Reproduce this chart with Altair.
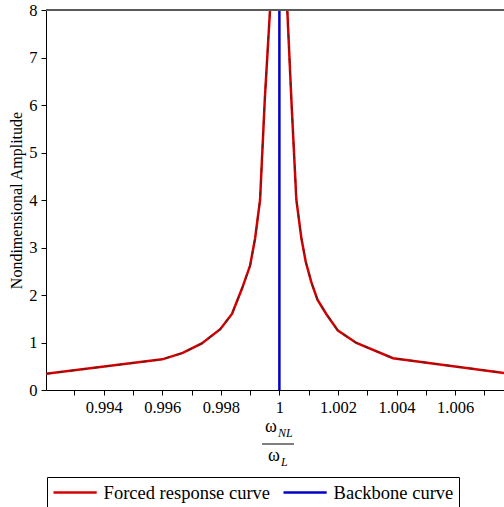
import altair as alt
import pandas as pd

# Frequency ratio and amplitude along the forced response curve
# (two branches on either side of the resonance peak)
left_ratio = [0.99203, 0.9960, 0.9967, 0.99735, 0.99798, 0.99838, 0.99872,
              0.9990, 0.99917, 0.99934, 0.99950, 0.99968]
left_amp = [0.34, 0.645, 0.78, 0.98, 1.28, 1.60, 2.13, 2.62, 3.19, 4.0, 6.1, 8.0]

right_ratio = [1.00027, 1.00041, 1.00058, 1.00075, 1.0009, 1.00109, 1.0013,
               1.0016, 1.0020, 1.00263, 1.00388, 1.00767]
right_amp = [8.0, 6.1, 4.0, 3.2, 2.7, 2.27, 1.9, 1.6, 1.25, 0.99, 0.67, 0.36]

# Backbone curve (vertical at the linear natural frequency)
backbone_ratio = [1.0, 1.0]
backbone_amp = [0.0, 8.0]

series_names = ["Forced response curve", "Backbone curve"]
series_colors = ["#d40000", "#0000c8"]

x_domain = [0.99203, 1.00767]
y_domain = [0, 8]
x_major = [0.994, 0.996, 0.998, 1.0, 1.002, 1.004, 1.006]
x_minor = [0.993, 0.995, 0.997, 0.999, 1.001, 1.003, 1.005, 1.007]
y_ticks = [0, 0.5, 1, 1.5, 2, 2.5, 3, 3.5, 4, 4.5, 5, 5.5, 6, 6.5, 7, 7.5, 8]
frame_top = [8]

rows = []
for branch, xs, ys in (("left", left_ratio, left_amp), ("right", right_ratio, right_amp)):
    for i, (xv, yv) in enumerate(zip(xs, ys)):
        rows.append({"ratio": xv, "amp": yv, "curve": series_names[0], "branch": branch, "seq": i})
for i, (xv, yv) in enumerate(zip(backbone_ratio, backbone_amp)):
    rows.append({"ratio": xv, "amp": yv, "curve": series_names[1], "branch": "backbone", "seq": i})
df = pd.DataFrame(rows)

SERIF = "Liberation Serif"
W, H = 458, 380
x_scale = alt.Scale(domain=x_domain, nice=False, zero=False)

x_enc = alt.X(
    "ratio:Q",
    scale=x_scale,
    axis=alt.Axis(
        values=x_major, format=".3~f", orient="bottom",
        title=None, grid=False, tickSize=5, labelPadding=4,
        labelFont=SERIF, labelFontSize=16.5, labelColor="black",
        domainColor="black", tickColor="black", labelFlush=False, labelOverlap=False,
    ),
)
y_enc = alt.Y(
    "amp:Q",
    scale=alt.Scale(domain=y_domain, nice=False),
    axis=alt.Axis(
        values=y_ticks,
        labelExpr="datum.value % 1 == 0 ? datum.label : ''",
        title="Nondimensional Amplitude", titleFont=SERIF, titleFontSize=16,
        titleFontWeight="normal", titleColor="black", titlePadding=4,
        grid=False, tickSize=5, labelPadding=4,
        labelFont=SERIF, labelFontSize=16.5, labelColor="black",
        domainColor="black", tickColor="black", labelFlush=False, labelOverlap=False,
    ),
)

lines = alt.Chart(df).mark_line(strokeWidth=2.5, clip=True).encode(
    x=x_enc,
    y=y_enc,
    color=alt.Color(
        "curve:N",
        scale=alt.Scale(domain=series_names, range=series_colors),
        legend=alt.Legend(
            title=None, orient="none", legendX=1, legendY=467,
            direction="horizontal", columns=2,
            symbolType="M-2.4,0H2.4", symbolSize=324, symbolStrokeWidth=2.5,
            symbolOffset=12.6,
            labelFont=SERIF, labelFontSize=18.5, labelColor="black",
            labelOffset=18, columnPadding=7, labelLimit=400,
            strokeColor="black", padding=5,
        ),
    ),
    detail="branch:N",
    order="seq:Q",
)

# darker dash texture along the red curve; its x axis carries the minor ticks
texture = alt.Chart(df[df["curve"] == series_names[0]]).mark_line(
    strokeWidth=1.6, color="#7a1818", strokeDash=[5, 7], clip=True
).encode(
    x=alt.X("ratio:Q", scale=x_scale,
            axis=alt.Axis(values=x_minor, orient="bottom", labels=False, domain=False,
                          title=None, grid=False, tickSize=5, tickColor="black")),
    y="amp:Q", detail="branch:N", order="seq:Q",
)

frame = alt.Chart(pd.DataFrame({"top": frame_top})).mark_rule(
    color="#5a5a5a", strokeWidth=2
).encode(y="top:Q")

one = pd.DataFrame({"k": [0]})
num_w = alt.Chart(one).mark_text(text="ω", font=SERIF, fontSize=18, align="left",
                                 baseline="middle", color="black").encode(
    x=alt.value(219), y=alt.value(417))
num_sub = alt.Chart(one).mark_text(text="NL", font=SERIF, fontSize=12, fontStyle="italic",
                                   align="left", baseline="middle", color="black").encode(
    x=alt.value(232), y=alt.value(423))
bar = alt.Chart(one).mark_rule(color="black", strokeWidth=1).encode(
    x=alt.value(216), x2=alt.value(248), y=alt.value(434))
den_w = alt.Chart(one).mark_text(text="ω", font=SERIF, fontSize=18, align="left",
                                 baseline="middle", color="black").encode(
    x=alt.value(222), y=alt.value(446))
den_sub = alt.Chart(one).mark_text(text="L", font=SERIF, fontSize=12, fontStyle="italic",
                                   align="left", baseline="middle", color="black").encode(
    x=alt.value(235), y=alt.value(452))

chart = alt.layer(lines, texture, frame, num_w, num_sub, bar, den_w, den_sub).resolve_axis(
    x="independent"
).properties(
    width=W, height=H,
    autosize=alt.AutoSizeParams(type="none"),
    padding={"left": 46, "top": 10, "right": 0, "bottom": 117},
    background="white",
).configure_view(stroke=None)

chart.save("out.html", embed_options={"renderer": "svg", "actions": False})
